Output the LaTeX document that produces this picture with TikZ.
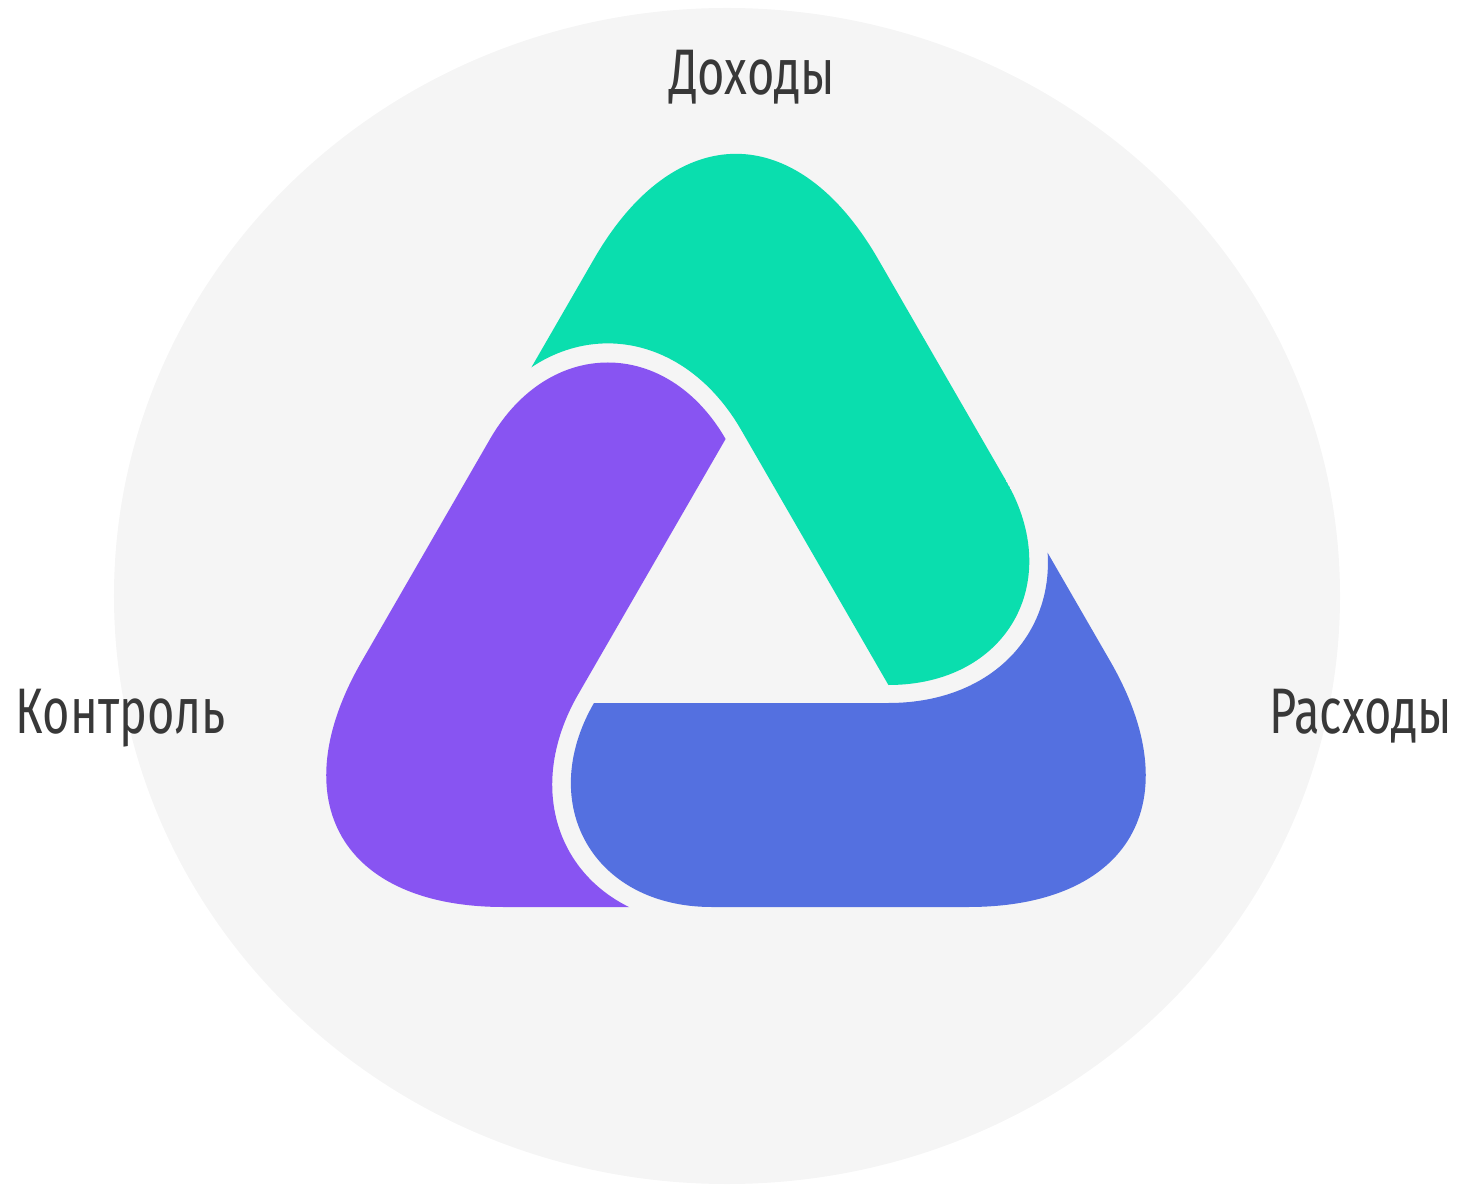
\documentclass[tikz,border=0pt]{standalone}
\usepackage{fontspec}
\setmainfont{Fira Sans}[FakeStretch=0.73]

\definecolor{bggray}{HTML}{F5F5F5}
\definecolor{incomegreen}{HTML}{0ADEAE}
\definecolor{controlpurple}{HTML}{8854F2}
\definecolor{expenseblue}{HTML}{5470E0}
\definecolor{labelgray}{HTML}{383838}

\tikzset{
  cyclelabel/.style={inner sep=0pt, text=labelgray, font=\fontsize{18.3}{20}\selectfont},
  % one band of the cycle, drawn for the bottom side, cut at both ends
  bandpiece/.style={insert path={(-142.03,-94) .. controls (-200.92,-196) and (-142.03,-298) .. (-24.24,-298)
    -- (-24.24,-420) -- (700,-420) -- (600,200) -- (285.78,137.01)
    .. controls (352.47,21.5) and (285.79,-94) .. (152.41,-94) -- cycle}}
}

\begin{document}
\begin{tikzpicture}[x=0.01cm, y=0.01cm]

\useasboundingbox (-736,-576) rectangle (725,609);

\fill[bggray] (-9,13) ellipse [x radius=613, y radius=588];

\begin{scope}
\clip (232.14,-298) .. controls (394.02,-298) and (455.08,-192.25) .. (374.14,-52.06)
  -- (142,350.03) .. controls (61.06,490.22) and (-61.06,490.22) .. (-142,350.03)
  -- (-374.14,-52.06) .. controls (-455.08,-192.25) and (-394.02,-298) .. (-232.14,-298) -- cycle;
\fill[expenseblue] [bandpiece];
\fill[incomegreen, rotate=120] [bandpiece];
\fill[controlpurple, rotate=240] [bandpiece];
\end{scope}

\node[cyclelabel, anchor=base] (income) at (16,514) {Доходы};
\node[cyclelabel, anchor=base west] (control) at (-721,-124) {Контроль};
\node[cyclelabel, anchor=base east] (expenses) at (717,-124) {Расходы};

\end{tikzpicture}
\end{document}
